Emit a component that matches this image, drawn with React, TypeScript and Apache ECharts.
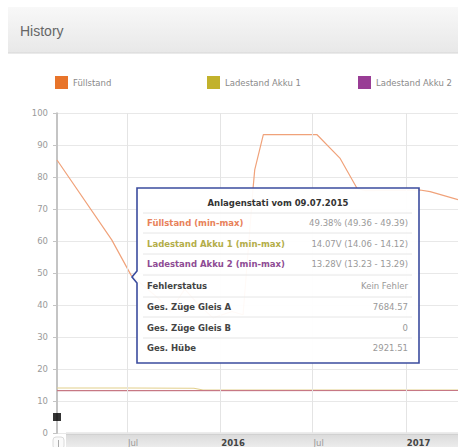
import React, { useEffect, useRef } from 'react';
import * as echarts from 'echarts';

const fuellstandDates = [
  '2015-02-13', '2015-06-01', '2015-07-09', '2015-09-02', '2015-09-24', '2015-10-23',
  '2015-11-20', '2015-12-18', '2016-01-24', '2016-02-15', '2016-03-06', '2016-03-09',
  '2016-03-26', '2016-07-10', '2016-08-24', '2016-09-27', '2016-10-13', '2017-01-29',
  '2017-02-18', '2017-04-14',
];
const fuellstandValues = [
  85.4, 60.4, 49.38, 42, 38, 45,
  40, 36, 38, 37, 77, 82.3,
  93.3, 93.3, 86, 76.5, 75.8, 76,
  75.5, 73,
];
const akku1Dates = ['2015-02-13', '2015-07-09', '2015-11-10', '2015-11-28', '2017-04-14'];
const akku1Values = [14.07, 14.07, 14.0, 13.45, 13.45];
const akku2Dates = ['2015-02-13', '2015-07-09', '2017-04-14'];
const akku2Values = [13.28, 13.28, 13.3];
const fehlerDates = ['2015-02-13'];
const fehlerValues = [5];

const tickDates = ['2015-07-01', '2016-01-01', '2016-07-01', '2017-01-01'];
const tickLabels = ['Jul', '2016', 'Jul', '2017'];
const yTicks = { min: 0, max: 100, interval: 10 };
const axisMin = '2015-02-13';
const axisMax = '2017-04-14';

const seriesNames = ['Füllstand', 'Ladestand Akku 1', 'Ladestand Akku 2'];
const seriesColors = ['#e8742a', '#c2b22c', '#993d95'];

const tooltipTitle = 'Anlagenstati vom 09.07.2015';
const tooltipLabels = [
  'Füllstand (min-max)',
  'Ladestand Akku 1 (min-max)',
  'Ladestand Akku 2 (min-max)',
  'Fehlerstatus',
  'Ges. Züge Gleis A',
  'Ges. Züge Gleis B',
  'Ges. Hübe',
];
const tooltipValues = [
  '49.38% (49.36 - 49.39)',
  '14.07V (14.06 - 14.12)',
  '13.28V (13.23 - 13.29)',
  'Kein Fehler',
  '7684.57',
  '0',
  '2921.51',
];
const tooltipLabelColors = ['#e8825a', '#b3ad48', '#8e4b94', '#444', '#444', '#444', '#444'];

const ts = (d: string) => {
  const [y, m, day] = d.split('-').map(Number);
  return Date.UTC(y, m - 1, day);
};
const pairs = (dates: string[], vals: number[]) => dates.map((d, i) => [ts(d), vals[i]]);

const FONT = 'DejaVu Sans';

export default function App() {
  const ref = useRef<HTMLDivElement>(null);
  useEffect(() => {
    if (!ref.current) return;
    const chart = echarts.init(ref.current, null, { renderer: 'svg' });

    const tipLeft = 137, tipRight = 419, tipTop = 188, tipBottom = 363;
    const rowYs = [223, 243.5, 264, 286, 307, 328, 348];
    const sepYs = [213, 233, 254, 275, 297, 317, 338];
    const tickTs = tickDates.map(ts);

    const tooltipGraphics: any[] = [
      {
        type: 'polygon',
        shape: {
          points: [
            [tipLeft, tipTop], [tipRight, tipTop], [tipRight, tipBottom], [tipLeft, tipBottom],
            [tipLeft, 283], [132, 277], [tipLeft, 271],
          ],
        },
        style: { fill: 'rgba(255,255,255,0.94)', stroke: '#3b4c9e', lineWidth: 1.6 },
        z: 100,
      },
      {
        type: 'text',
        x: (tipLeft + tipRight) / 2,
        y: 203,
        style: {
          text: tooltipTitle, fill: '#333', font: `bold 8.5px "${FONT}"`,
          align: 'center', verticalAlign: 'middle',
        },
        z: 101,
      },
      ...sepYs.map((y) => ({
        type: 'line',
        shape: { x1: 143, y1: y, x2: 412, y2: y },
        style: { stroke: '#e6e6e6', lineWidth: 1 },
        z: 101,
      })),
      ...tooltipLabels.map((t, i) => ({
        type: 'text',
        x: 147,
        y: rowYs[i],
        style: {
          text: t, fill: tooltipLabelColors[i], font: `bold 8.5px "${FONT}"`,
          align: 'left', verticalAlign: 'middle',
        },
        z: 101,
      })),
      ...tooltipValues.map((t, i) => ({
        type: 'text',
        x: 408,
        y: rowYs[i],
        style: {
          text: t, fill: '#999', font: `8.5px "${FONT}"`,
          align: 'right', verticalAlign: 'middle',
        },
        z: 101,
      })),
    ];

    const option: any = {
      animation: false,
      backgroundColor: '#fff',
      graphic: [
        {
          type: 'rect',
          shape: { x: 8, y: 7, width: 450, height: 46 },
          style: {
            fill: new echarts.graphic.LinearGradient(0, 0, 0, 1, [
              { offset: 0, color: '#f8f8f8' },
              { offset: 1, color: '#e8e8e8' },
            ]),
          },
          z: -1,
        },
        {
          type: 'line',
          shape: { x1: 8, y1: 53, x2: 458, y2: 53 },
          style: { stroke: '#d6d6d6', lineWidth: 1 },
          z: -1,
        },
        {
          type: 'text',
          x: 20,
          y: 31,
          style: {
            text: 'History', fill: '#666', font: '14px "Liberation Sans"',
            align: 'left', verticalAlign: 'middle',
          },
        },
        {
          type: 'rect',
          shape: { x: 66, y: 433, width: 392, height: 14 },
          style: {
            fill: new echarts.graphic.LinearGradient(0, 0, 0, 1, [
              { offset: 0, color: '#d9d9d9' },
              { offset: 1, color: '#ececec' },
            ]),
          },
          z: -1,
        },
        {
          type: 'line',
          shape: { x1: 66, y1: 433.5, x2: 458, y2: 433.5 },
          style: { stroke: '#b4b4b4', lineWidth: 1.5 },
          z: -1,
        },
        {
          type: 'rect',
          shape: { x: 53, y: 437, width: 11, height: 12, r: 3 },
          style: { fill: '#fafafa', stroke: '#dadada', lineWidth: 1 },
          z: -1,
        },
        {
          type: 'line',
          shape: { x1: 58.5, y1: 440, x2: 58.5, y2: 447 },
          style: { stroke: '#aaa', lineWidth: 1 },
          z: -1,
        },
        ...tooltipGraphics,
      ],
      legend: seriesNames.map((n, i) => ({
        data: [n],
        left: [55, 207, 358][i],
        top: 76,
        icon: 'rect',
        itemWidth: 13,
        itemHeight: 13,
        itemGap: 5,
        padding: 0,
        selectedMode: false,
        textStyle: { color: '#8a8a8a', fontFamily: FONT, fontSize: 8.5 },
      })),
      grid: { left: 57, right: 0, top: 113.3, bottom: 13.7, containLabel: false },
      xAxis: {
        type: 'value',
        min: ts(axisMin),
        max: ts(axisMax),
        axisLine: { show: false },
        axisTick: { show: false, customValues: tickTs },
        splitLine: { show: false },
        axisLabel: {
          customValues: tickTs,
          formatter: (v: number) => {
            const i = tickTs.indexOf(v);
            const t = i >= 0 ? tickLabels[i] : '';
            return /^\d+$/.test(t) ? `{y|${t}}` : `{m|${t}}`;
          },
          align: 'left',
          margin: 5,
          rich: {
            y: { fontFamily: FONT, fontSize: 8.5, fontWeight: 'bold', color: '#444', padding: [0, 0, 0, 1] },
            m: { fontFamily: FONT, fontSize: 8.5, color: '#999', padding: [0, 0, 0, 1] },
          },
        },
      },
      yAxis: {
        type: 'value',
        min: yTicks.min,
        max: yTicks.max,
        interval: yTicks.interval,
        axisLine: { show: true, lineStyle: { color: '#c4c4c4', width: 2 } },
        axisTick: { show: true, length: 4, lineStyle: { color: '#c4c4c4' } },
        splitLine: { show: true, lineStyle: { color: '#e8e8e8', width: 1 } },
        axisLabel: { color: '#9a9a9a', fontFamily: FONT, fontSize: 8.5, margin: 9 },
      },
      series: [
        {
          name: 'grid-lines',
          type: 'line',
          data: [],
          z: 0,
          silent: true,
          markLine: {
            silent: true,
            symbol: 'none',
            label: { show: false },
            lineStyle: { color: '#e4e4e4', type: 'solid', width: 1 },
            data: tickTs.map((t) => ({ xAxis: t })),
          },
        },
        {
          name: seriesNames[1],
          type: 'line',
          color: seriesColors[1],
          data: pairs(akku1Dates, akku1Values),
          showSymbol: false,
          lineStyle: { color: '#e2cf8c', width: 1.2 },
          z: 2,
        },
        {
          name: seriesNames[2],
          type: 'line',
          color: seriesColors[2],
          data: pairs(akku2Dates, akku2Values),
          showSymbol: false,
          lineStyle: { color: '#c77884', width: 1.2 },
          z: 2,
        },
        {
          name: seriesNames[0],
          type: 'line',
          color: seriesColors[0],
          data: pairs(fuellstandDates, fuellstandValues),
          showSymbol: false,
          lineStyle: { color: '#f0a27a', width: 1.2 },
          z: 3,
        },
        {
          name: 'Fehlerstatus',
          type: 'scatter',
          data: pairs(fehlerDates, fehlerValues),
          symbol: 'rect',
          symbolSize: 8,
          itemStyle: { color: '#000' },
          z: 4,
        },
      ],
    };
    chart.setOption(option);
    return () => chart.dispose();
  }, []);
  return (
    <div
      ref={ref}
      style={{ position: 'fixed', left: 0, top: 0, width: 458, height: 447, background: '#fff' }}
    />
  );
}
